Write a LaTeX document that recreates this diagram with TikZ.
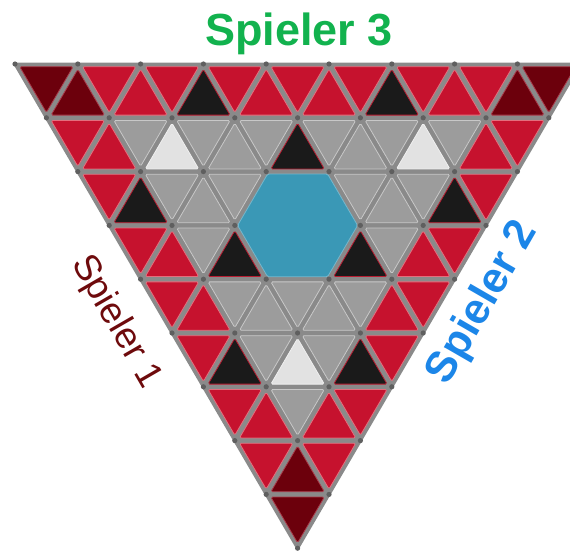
\documentclass[tikz,border=0pt]{standalone}
\usepackage{fontspec}
\setmainfont{Liberation Sans}
\usetikzlibrary{calc}
\definecolor{cred}{RGB}{198,18,46}
\definecolor{credb}{RGB}{228,110,125}
\definecolor{cmar}{RGB}{108,0,12}
\definecolor{cmarb}{RGB}{170,60,75}
\definecolor{cblk}{RGB}{26,26,26}
\definecolor{cblkb}{RGB}{185,30,50}
\definecolor{cgry}{RGB}{156,156,156}
\definecolor{cgryb}{RGB}{200,200,200}
\definecolor{cwht}{RGB}{226,226,226}
\definecolor{cwhtb}{RGB}{240,240,240}
\definecolor{cblue}{RGB}{58,152,182}
\definecolor{cline}{RGB}{138,138,138}
\definecolor{cdot}{RGB}{95,95,95}
\definecolor{pgreen}{RGB}{18,178,78}
\definecolor{pblue}{RGB}{28,134,232}
\definecolor{pred}{RGB}{110,10,12}
\tikzset{
  tile/.style={line width=0.8pt, rounded corners=1.5pt},
  red/.style={tile, fill=cred, draw=credb},
  mar/.style={tile, fill=cmar, draw=cmarb},
  blk/.style={tile, fill=cblk, draw=cblkb},
  gry/.style={tile, fill=cgry, draw=cgryb},
  wht/.style={tile, fill=cwht, draw=cwhtb},
  lab/.style={inner sep=0pt}
}
% tile down: row #1, index #2, style #3
\newcommand\tileD[3]{%
  \path ({15+62.8*(#2+0.5*#1)},{64+53.8*#1}) coordinate (ta)
        ({15+62.8*(#2+1+0.5*#1)},{64+53.8*#1}) coordinate (tb)
        ({15+62.8*(#2+0.5*(#1+1))},{64+53.8*(#1+1)}) coordinate (tc);
  \coordinate (tm) at (barycentric cs:ta=1,tb=1,tc=1);
  \path[#3] ($(tm)!0.85!(ta)$) -- ($(tm)!0.85!(tb)$) -- ($(tm)!0.85!(tc)$) -- cycle;
}
\newcommand\tileU[3]{%
  \path ({15+62.8*(#2+1+0.5*#1)},{64+53.8*#1}) coordinate (ta)
        ({15+62.8*(#2+0.5*(#1+1))},{64+53.8*(#1+1)}) coordinate (tb)
        ({15+62.8*(#2+1+0.5*(#1+1))},{64+53.8*(#1+1)}) coordinate (tc);
  \coordinate (tm) at (barycentric cs:ta=1,tb=1,tc=1);
  \path[#3] ($(tm)!0.85!(ta)$) -- ($(tm)!0.85!(tb)$) -- ($(tm)!0.85!(tc)$) -- cycle;
}
\begin{document}
\begin{tikzpicture}[x=1pt,y=-1pt]
\useasboundingbox (0,0) rectangle (570,554);
\begin{scope}
\clip (0,0) rectangle (570,554);
% board background
\fill[cline, draw=cline, line width=3pt, line join=round]
  (15,64) coordinate (tl) -- (580.2,64) coordinate (tr) -- (297.6,548.2) coordinate (bt) -- cycle;
% row 0
\foreach \k/\s in {0/mar,1/red,2/red,3/red,4/red,5/red,6/red,7/red,8/mar} {\tileD{0}{\k}{\s}}
\foreach \k/\s in {0/mar,1/red,2/blk,3/red,4/red,5/blk,6/red,7/mar} {\tileU{0}{\k}{\s}}
% row 1
\foreach \k/\s in {0/red,1/gry,2/gry,3/gry,4/gry,5/gry,6/gry,7/red} {\tileD{1}{\k}{\s}}
\foreach \k/\s in {0/red,1/wht,2/gry,3/blk,4/gry,5/wht,6/red} {\tileU{1}{\k}{\s}}
% row 2
\foreach \k/\s in {0/red,1/gry,2/gry,4/gry,5/gry,6/red} {\tileD{2}{\k}{\s}}
\foreach \k/\s in {0/blk,1/gry,4/gry,5/blk} {\tileU{2}{\k}{\s}}
% row 3
\foreach \k/\s in {0/red,1/gry,4/gry,5/red} {\tileD{3}{\k}{\s}}
\foreach \k/\s in {0/red,1/blk,3/blk,4/red} {\tileU{3}{\k}{\s}}
% row 4
\foreach \k/\s in {0/red,1/gry,2/gry,3/gry,4/red} {\tileD{4}{\k}{\s}}
\foreach \k/\s in {0/red,1/gry,2/gry,3/red} {\tileU{4}{\k}{\s}}
% row 5
\foreach \k/\s in {0/red,1/gry,2/gry,3/red} {\tileD{5}{\k}{\s}}
\foreach \k/\s in {0/blk,1/wht,2/blk} {\tileU{5}{\k}{\s}}
% row 6
\foreach \k/\s in {0/red,1/gry,2/red} {\tileD{6}{\k}{\s}}
\foreach \k/\s in {0/red,1/red} {\tileU{6}{\k}{\s}}
% row 7
\foreach \k/\s in {0/red,1/red} {\tileD{7}{\k}{\s}}
\tileU{7}{0}{mar}
% row 8
\tileD{8}{0}{mar}
% vertex dots
\foreach \r in {0,...,9} {
  \pgfmathtruncatemacro\n{9-\r}
  \foreach \i in {0,...,\n} {
    \fill[cdot] ({15+62.8*(\i+0.5*\r)},{64+53.8*\r}) circle (2.6pt);
  }
}
% central hexagon
\coordinate (hc) at (297.6,225.4);
\coordinate (h1) at (329.0,171.6);
\coordinate (h2) at (360.4,225.4);
\coordinate (h3) at (329.0,279.2);
\coordinate (h4) at (266.2,279.2);
\coordinate (h5) at (234.8,225.4);
\coordinate (h6) at (266.2,171.6);
\path[tile, fill=cblue, draw=cblue!70!white]
  ($(hc)!0.955!(h1)$) -- ($(hc)!0.955!(h2)$) -- ($(hc)!0.955!(h3)$) --
  ($(hc)!0.955!(h4)$) -- ($(hc)!0.955!(h5)$) -- ($(hc)!0.955!(h6)$) -- cycle;
\end{scope}
% player labels
\node[lab, anchor=base, text=pgreen, font=\fontsize{45}{45}\bfseries\selectfont] (s3) at (299,45) {Spieler 3};
\node[lab, text=pblue, rotate=60, font=\fontsize{43}{43}\bfseries\selectfont] (s2) at (483,303) {Spieler 2};
\node[lab, text=pred, rotate=-60, font=\fontsize{37}{37}\selectfont] (s1) at (116,322) {Spieler 1};
\end{tikzpicture}
\end{document}
